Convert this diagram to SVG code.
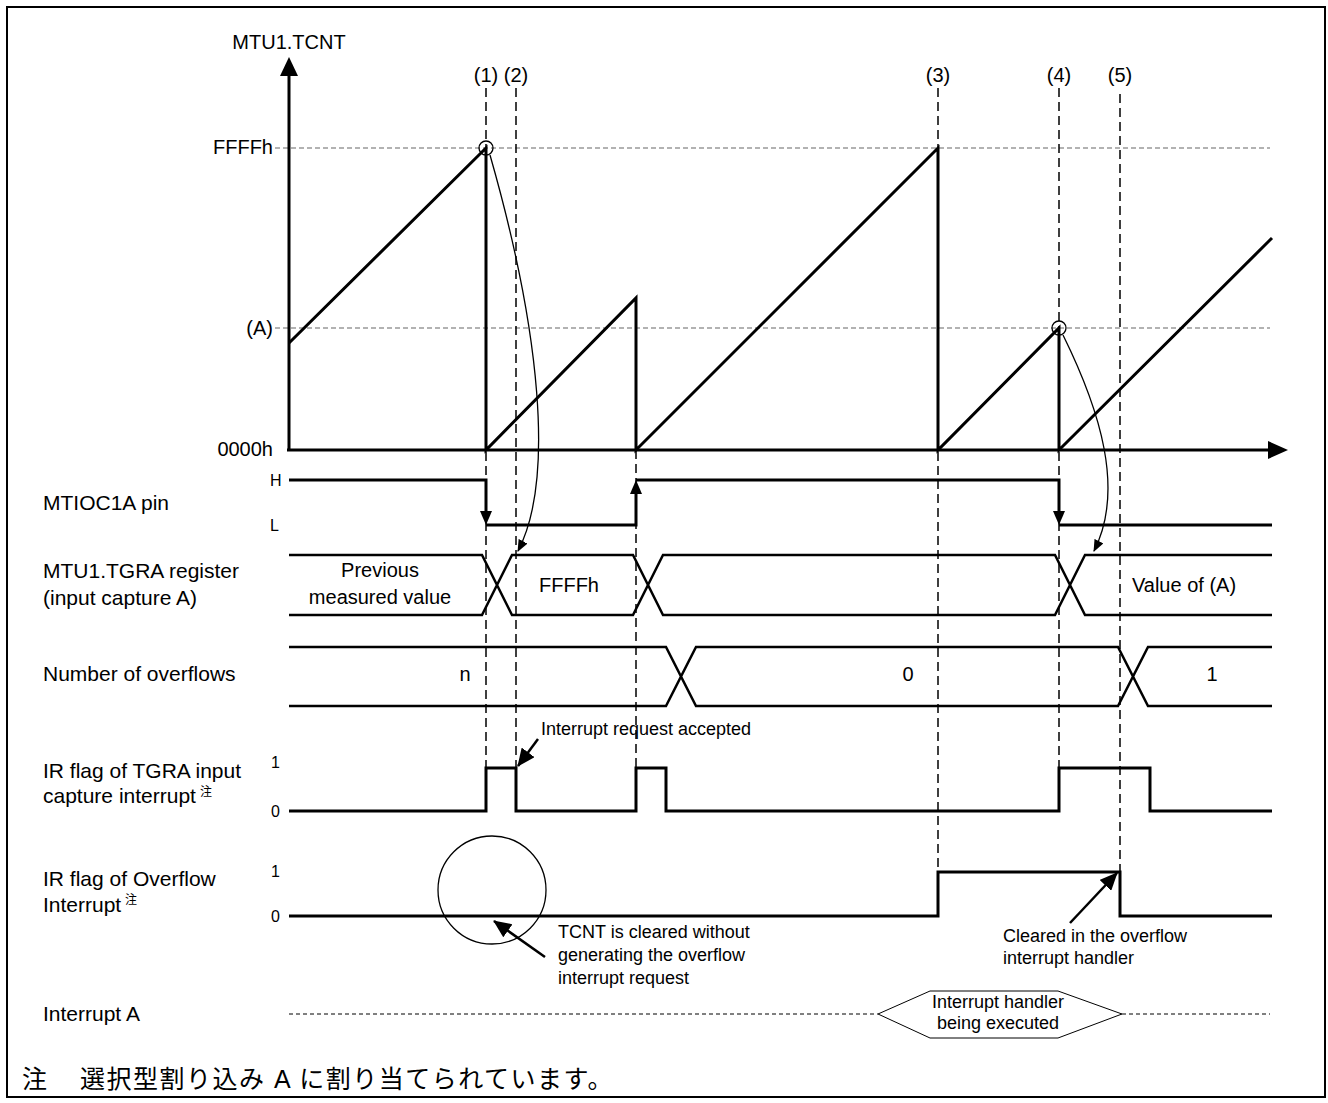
<svg xmlns="http://www.w3.org/2000/svg" width="1328" height="1103" viewBox="0 0 1328 1103">
<style>
text{font-family:"Liberation Sans",Arial,sans-serif;fill:#000}
.lbl{font-size:20px}
.lft{font-size:21px}
.sm{font-size:16px}
.ann{font-size:18px}
.jp{font-family:"Liberation Sans","Noto Sans CJK JP",sans-serif;font-size:25px}
.sup{font-family:"Noto Sans CJK JP",sans-serif;font-size:12px}
.wave{fill:none;stroke:#000;stroke-width:3;stroke-linejoin:miter}
.bus{fill:none;stroke:#000;stroke-width:2.5}
.vd{stroke:#000;stroke-width:1.5;stroke-dasharray:9,5;fill:none}
.gd{stroke:#999;stroke-width:1.5;stroke-dasharray:5,3;fill:none}
.thin{fill:none;stroke:#000;stroke-width:1.3}
.idash{stroke:#000;stroke-width:1;stroke-dasharray:4,3;fill:none}
</style>
<defs>
<marker id="ahS" viewBox="0 0 12 10" refX="11" refY="5" markerWidth="12" markerHeight="10" markerUnits="userSpaceOnUse" orient="auto"><path d="M0,0 L12,5 L0,10 z" fill="#000"/></marker>
<marker id="ahB" viewBox="0 0 18 16" refX="17" refY="8" markerWidth="18" markerHeight="16" markerUnits="userSpaceOnUse" orient="auto"><path d="M0,0 L18,8 L0,16 z" fill="#000"/></marker>
</defs>
<rect x="7" y="7" width="1318" height="1090" fill="#fff" stroke="#000" stroke-width="2"/>

<g id="gridlines">
<line class="gd" x1="275" y1="148" x2="1270" y2="148"/>
<line class="gd" x1="275" y1="328" x2="1270" y2="328"/>
</g>

<g id="timing-markers">
<line class="vd" x1="486" y1="88" x2="486" y2="768"/>
<line class="vd" x1="516" y1="88" x2="516" y2="768"/>
<line class="vd" x1="636" y1="450" x2="636" y2="768"/>
<line class="vd" x1="938" y1="88" x2="938" y2="872"/>
<line class="vd" x1="1059" y1="88" x2="1059" y2="768"/>
<line class="vd" x1="1120" y1="94" x2="1120" y2="872"/>
<text class="lbl" x="486" y="82" text-anchor="middle">(1)</text>
<text class="lbl" x="516" y="82" text-anchor="middle">(2)</text>
<text class="lbl" x="938" y="82" text-anchor="middle">(3)</text>
<text class="lbl" x="1059" y="82" text-anchor="middle">(4)</text>
<text class="lbl" x="1120" y="82" text-anchor="middle">(5)</text>
</g>

<g id="tcnt-chart">
<line x1="289" y1="450" x2="289" y2="72" stroke="#000" stroke-width="3"/>
<polygon points="289,57 280,76 298,76" fill="#000"/>
<line x1="287" y1="450" x2="1272" y2="450" stroke="#000" stroke-width="3"/>
<polygon points="1288,450 1268,441 1268,459" fill="#000"/>
<text class="lbl" x="289" y="49" text-anchor="middle">MTU1.TCNT</text>
<text class="lbl" x="273" y="154" text-anchor="end">FFFFh</text>
<text class="lbl" x="273" y="335" text-anchor="end">(A)</text>
<text class="lbl" x="273" y="456" text-anchor="end">0000h</text>
<polyline class="wave" points="289,343 486,148 486,450 636,298 636,450 938,148 938,450 1059,328 1059,450 1272,238"/>
<circle class="thin" cx="486" cy="148" r="7"/>
<circle class="thin" cx="1059" cy="328" r="7"/>
</g>

<g id="mtioc1a">
<text class="lft" x="43" y="510">MTIOC1A pin</text>
<text class="sm" x="270" y="486">H</text>
<text class="sm" x="270" y="531">L</text>
<polyline class="wave" points="289,480 486,480 486,512"/>
<polygon points="486,525 480,511 492,511" fill="#000"/>
<polyline class="wave" points="486,525 636,525 636,493"/>
<polygon points="636,480 630,494 642,494" fill="#000"/>
<polyline class="wave" points="636,480 1059,480 1059,512"/>
<polygon points="1059,525 1053,511 1065,511" fill="#000"/>
<polyline class="wave" points="1059,525 1272,525"/>
</g>

<g id="tgra">
<text class="lft" x="43" y="578">MTU1.TGRA register</text>
<text class="lft" x="43" y="605">(input capture A)</text>
<path class="bus" d="M289,555 H482 L512,615 H633 L663,555 H1055 L1085,615 H1272 M289,615 H482 L512,555 H633 L663,615 H1055 L1085,555 H1272"/>
<text class="lbl" x="380" y="577" text-anchor="middle">Previous</text>
<text class="lbl" x="380" y="604" text-anchor="middle">measured value</text>
<text class="lbl" x="569" y="592" text-anchor="middle">FFFFh</text>
<text class="lbl" x="1184" y="592" text-anchor="middle">Value of (A)</text>
</g>

<g id="overflows">
<text class="lft" x="43" y="681">Number of overflows</text>
<path class="bus" d="M289,647 H666 L696,706 H1118 L1148,647 H1272 M289,706 H666 L696,647 H1118 L1148,706 H1272"/>
<text class="lbl" x="465" y="681" text-anchor="middle">n</text>
<text class="lbl" x="908" y="681" text-anchor="middle">0</text>
<text class="lbl" x="1212" y="681" text-anchor="middle">1</text>
</g>

<g id="ir-tgra">
<text class="lft" x="43" y="778">IR flag of TGRA input</text>
<text class="lft" x="43" y="803">capture interrupt</text>
<text class="sup" x="200" y="796">注</text>
<text class="sm" x="271" y="768">1</text>
<text class="sm" x="271" y="817">0</text>
<polyline class="wave" points="289,811 486,811 486,768 516,768 516,811 636,811 636,768 666,768 666,811 1059,811 1059,768 1150,768 1150,811 1272,811"/>
</g>

<g id="ir-overflow">
<text class="lft" x="43" y="886">IR flag of Overflow</text>
<text class="lft" x="43" y="912">Interrupt</text>
<text class="sup" x="125" y="904">注</text>
<text class="sm" x="271" y="877">1</text>
<text class="sm" x="271" y="922">0</text>
<polyline class="wave" points="289,916 938,916 938,872 1120,872 1120,916 1272,916"/>
<circle class="thin" cx="492" cy="890" r="54"/>
</g>

<g id="interrupt-a">
<text class="lft" x="43" y="1021">Interrupt A</text>
<line class="idash" x1="289" y1="1014" x2="878" y2="1014"/>
<line class="idash" x1="1122" y1="1014" x2="1270" y2="1014"/>
<polygon points="878,1014 930,991 1058,991 1122,1014 1058,1038 930,1038" fill="#fff" stroke="#000" stroke-width="1"/>
<text class="ann" x="998" y="1008" text-anchor="middle">Interrupt handler</text>
<text class="ann" x="998" y="1029" text-anchor="middle">being executed</text>
</g>

<g id="connectors">
<path class="thin" d="M490,155 C540,330 555,480 518,551" marker-end="url(#ahS)"/>
<path class="thin" d="M1063,335 C1100,410 1125,490 1094,551" marker-end="url(#ahS)"/>
<line x1="538" y1="739" x2="518" y2="766" stroke="#000" stroke-width="2.5" marker-end="url(#ahB)"/>
<line x1="545" y1="957" x2="494" y2="921" stroke="#000" stroke-width="2.5" marker-end="url(#ahB)"/>
<line x1="1070" y1="923" x2="1117" y2="873" stroke="#000" stroke-width="2.5" marker-end="url(#ahB)"/>
</g>

<g id="annotations">
<text class="ann" x="541" y="735">Interrupt request accepted</text>
<text class="ann" x="558" y="938">TCNT is cleared without</text>
<text class="ann" x="558" y="961">generating the overflow</text>
<text class="ann" x="558" y="984">interrupt request</text>
<text class="ann" x="1003" y="942">Cleared in the overflow</text>
<text class="ann" x="1003" y="964">interrupt handler</text>
</g>

<g id="note">
<text class="jp" x="22" y="1088">注</text>
<text class="jp" x="80" y="1088" letter-spacing="1.5">選択型割り込み A に割り当てられています。</text>
</g>
</svg>
